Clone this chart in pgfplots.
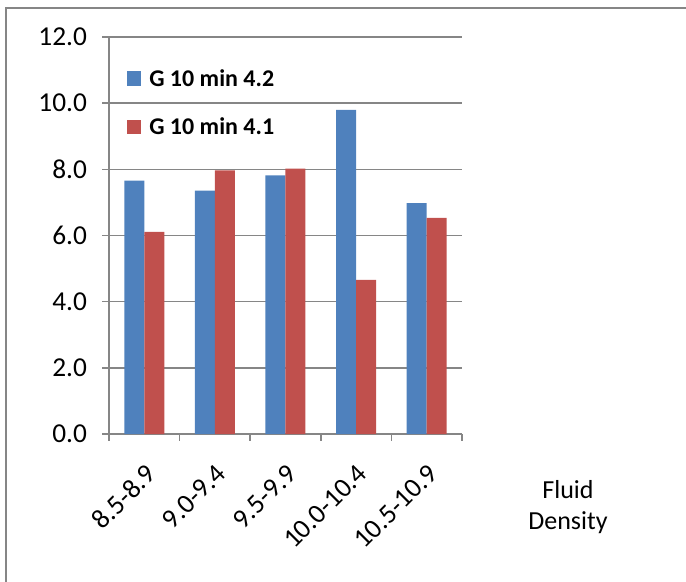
\documentclass[border=0pt]{standalone}
\usepackage{fontspec}
\setmainfont{Carlito}
\usepackage{pgfplots}
\pgfplotsset{compat=1.18}
\definecolor{sblue}{HTML}{4F81BD}
\definecolor{sred}{HTML}{C0504D}
\definecolor{gridgray}{HTML}{868686}
\begin{document}
\begin{tikzpicture}
\useasboundingbox (-81.75pt,-111pt) rectangle (432.75pt,325.5pt);
\draw[gridgray, line width=1.1pt] (-77.25pt,-130pt) -- (-77.25pt,319.5pt) -- (450pt,319.5pt);
\begin{axis}[
  scale only axis, width=264.75pt, height=297.75pt,
  ybar=0pt, bar width=15pt,
  xmin=-0.5, xmax=4.5, ymin=0, ymax=12,
  xtick={0,...,4},
  xticklabels={8.5-8.9,9.0-9.4,9.5-9.9,10.0-10.4,10.5-10.9},
  minor xtick={-0.5,0.5,...,4.5},
  major x tick style={draw=none},
  ytick={0,2,...,12},
  axis lines*=left,
  axis line style={gridgray, line width=1.1pt},
  ymajorgrids, grid style={gridgray, line width=1.1pt},
  tick style={gridgray, line width=1.1pt},
  tick align=outside,
  major tick length=5pt, minor tick length=5pt,
  tick label style={font=\fontsize{20.5}{24}\selectfont, black},
  yticklabel style={/pgf/number format/.cd, fixed, fixed zerofill, precision=1, assume math mode=true},
  yticklabel shift=8pt,
  xticklabel shift=15pt,
  xticklabel style={rotate=45, anchor=north east, inner sep=1pt},
  legend style={draw=none, fill=none, font=\bfseries\fontsize{18}{22}\selectfont,
    at={(0,1)}, anchor=north west, xshift=10pt, yshift=-20pt, row sep=18pt,
    /tikz/every even column/.append style={column sep=0pt},
    /tikz/every odd column/.append style={column sep=4pt}},
  legend cell align=left,
  legend image code/.code={\fill[#1] (0pt,-5.5pt) rectangle (11pt,5.5pt);},
]
\addplot[fill=sblue, draw=none] coordinates {(0,7.66) (1,7.36) (2,7.82) (3,9.80) (4,6.98)};
\addplot[fill=sred, draw=none] coordinates {(0,6.11) (1,7.97) (2,8.02) (3,4.66) (4,6.53)};
\legend{G 10 min 4.2, G 10 min 4.1}
\end{axis}
\node[align=center, font=\fontsize{19.5}{23}\selectfont] at (344.25pt,-54.75pt) {Fluid\\Density};
\end{tikzpicture}
\end{document}
